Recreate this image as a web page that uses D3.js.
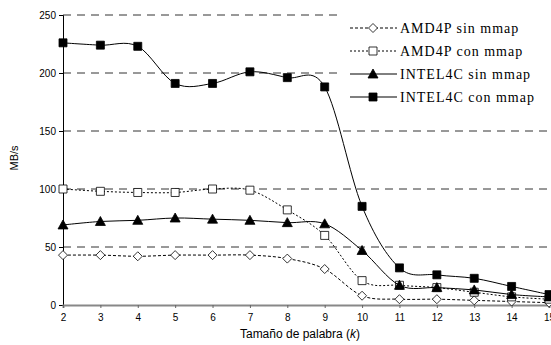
<!DOCTYPE html>
<meta charset="utf-8">
<style>
body { margin: 0; background: white; }
svg { display: block; }
.axis text { font-family: Arial, "Liberation Sans", sans-serif; font-size: 10px; fill: #000; }
.grid line { stroke: #333; stroke-dasharray: 8,6; }
.legend text { font-family: "Liberation Serif", "Times New Roman", serif; font-size: 14px; letter-spacing: 1px; }
</style>
<svg width="551" height="345"></svg>
<script src="https://cdn.jsdelivr.net/npm/d3@7"></script>
<script>
var kValues = [2, 3, 4, 5, 6, 7, 8, 9, 10, 11, 12, 13, 14, 15];
var yTicks = [0, 50, 100, 150, 200, 250];

var amdSin = [43, 43, 42, 43, 43, 43, 40, 31, 8, 5, 5, 4, 3, 2];
var amdCon = [100, 98, 97, 97, 100, 99, 82, 60, 21, 17, 15, 11, 7, 5];
var intelSin = [69, 72, 73, 75, 74, 73, 71, 70, 47, 17, 15, 13, 9, 7];
var intelCon = [226, 224, 223, 191, 191, 201, 196, 188, 85, 32, 26, 23, 16, 9];

var seriesNames = ["AMD4P sin mmap", "AMD4P con mmap", "INTEL4C sin mmap", "INTEL4C con mmap"];

var svg = d3.select("svg"),
    margin = {top: 15, right: 2, bottom: 40, left: 63},
    width = 549 - margin.left,
    height = 305 - margin.top;

var x = d3.scaleLinear().domain([2, 15]).range([0, width]);
var y = d3.scaleLinear().domain([0, 250]).range([height, 0]);

var g = svg.append("g").attr("transform", "translate(" + margin.left + "," + margin.top + ")");

// dashed grid lines
g.append("g").attr("class", "grid")
  .selectAll("line")
  .data(yTicks.filter(function(d) { return d > 0; }))
  .enter().append("line")
    .attr("x1", 0).attr("x2", width)
    .attr("y1", function(d) { return y(d); })
    .attr("y2", function(d) { return y(d); });

var series = [
  {name: seriesNames[0], values: amdSin, marker: "diamond", fill: "white", dash: "3,2"},
  {name: seriesNames[1], values: amdCon, marker: "square", fill: "white", dash: "2,2"},
  {name: seriesNames[2], values: intelSin, marker: "triangle", fill: "black", dash: null},
  {name: seriesNames[3], values: intelCon, marker: "square", fill: "black", dash: null}
];

function markerPath(type) {
  if (type === "diamond") return "M0,-4.5L4.5,0L0,4.5L-4.5,0Z";
  if (type === "square") return "M-4,-4H4V4H-4Z";
  return "M0,-5L5,4H-5Z";
}

var line = d3.line()
  .x(function(d, i) { return x(kValues[i]); })
  .y(function(d) { return y(d); })
  .curve(d3.curveCardinal.tension(0));

// legend background (hides grid behind)
var lg = svg.append("g").attr("class", "legend");
lg.append("rect").attr("x", 340).attr("y", 10).attr("width", 211).attr("height", 98).attr("fill", "white");

// y axis
g.append("g").attr("class", "axis")
  .call(d3.axisLeft(y).tickValues(yTicks).tickSize(4).tickPadding(3))
  .call(function(s) { s.select(".domain").attr("stroke", "#000"); });

// x axis
g.append("g").attr("class", "axis")
  .attr("transform", "translate(0," + height + ")")
  .call(d3.axisBottom(x).tickValues(kValues).tickFormat(d3.format("d")).tickSize(3).tickPadding(6))
  .call(function(s) {
    s.select(".domain").attr("stroke", "#888").attr("stroke-width", 2);
    s.selectAll(".tick line").attr("stroke", "#666");
  });

series.forEach(function(s) {
  g.append("path")
    .datum(s.values)
    .attr("fill", "none")
    .attr("stroke", "#000")
    .attr("stroke-width", 1)
    .attr("stroke-dasharray", s.dash)
    .attr("d", line);
  g.selectAll(null)
    .data(s.values)
    .enter().append("path")
      .attr("transform", function(d, i) { return "translate(" + x(kValues[i]) + "," + y(d) + ")"; })
      .attr("d", markerPath(s.marker))
      .attr("fill", s.fill)
      .attr("stroke", "#000")
      .attr("stroke-width", 0.8);
});

// legend entries
series.forEach(function(s, i) {
  var ly = 28 + i * 23;
  lg.append("line")
    .attr("x1", 350).attr("x2", 397)
    .attr("y1", ly).attr("y2", ly)
    .attr("stroke", i === 3 ? "#555" : "#000")
    .attr("stroke-width", i === 3 ? 1.5 : 1)
    .attr("stroke-dasharray", s.dash);
  lg.append("path")
    .attr("transform", "translate(373," + ly + ")")
    .attr("d", markerPath(s.marker))
    .attr("fill", s.fill)
    .attr("stroke", "#000")
    .attr("stroke-width", 0.8);
  lg.append("text")
    .attr("x", 400).attr("y", ly)
    .attr("dy", "0.35em")
    .text(s.name);
});

// axis titles
var xt = svg.append("text")
  .attr("x", 300).attr("y", 338)
  .attr("text-anchor", "middle")
  .style("font-family", "Arial, 'Liberation Sans', sans-serif")
  .style("font-size", "12px");
xt.append("tspan").text("Tamaño de palabra (");
xt.append("tspan").style("font-style", "italic").text("k");
xt.append("tspan").text(")");

svg.append("text")
  .attr("transform", "translate(18,158) rotate(-90)")
  .attr("text-anchor", "middle")
  .style("font-family", "Arial, 'Liberation Sans', sans-serif")
  .style("font-size", "11px")
  .text("MB/s");
</script>
